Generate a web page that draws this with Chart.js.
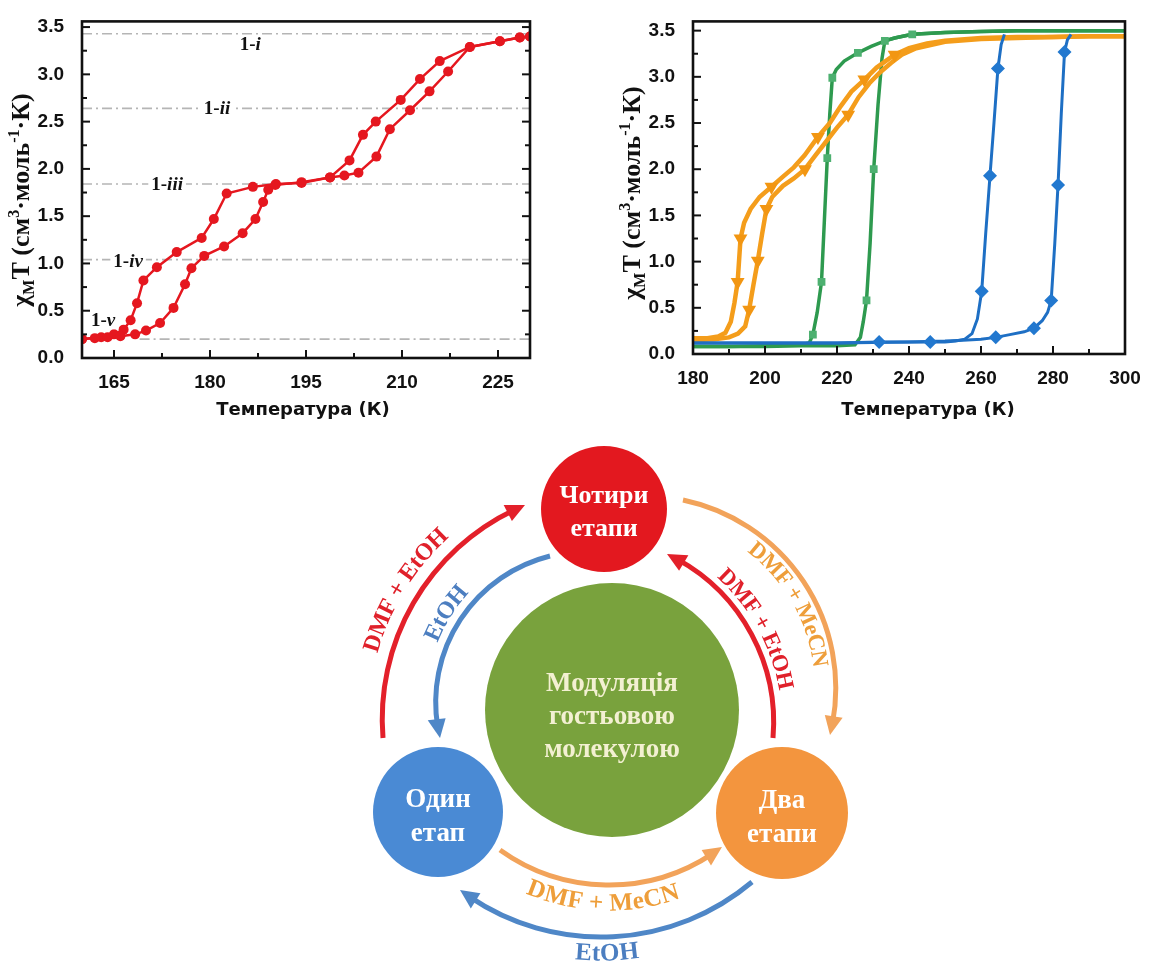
<!DOCTYPE html>
<html><head><meta charset="utf-8">
<script src="https://cdn.jsdelivr.net/npm/chart.js@4.4.1/dist/chart.umd.min.js"></script>
<style>
html,body{margin:0;padding:0;background:#fff;}
body{width:1163px;height:962px;position:relative;overflow:hidden;}
.box{position:absolute;}
</style></head><body>
<div class="box" style="left:0;top:0;width:545px;height:425px"><canvas id="c1"></canvas></div>
<div class="box" style="left:590px;top:0;width:573px;height:425px"><canvas id="c2"></canvas></div>
<div class="box" style="left:330px;top:430px;width:560px;height:532px"><canvas id="c3"></canvas></div>
<script>
// ---------- LEFT CHART DATA ----------
const leftXTicks = [165,180,195,210,225];
const leftXMinor = [172.5,187.5,202.5,217.5];
const leftYTicks = [0,0.5,1,1.5,2,2.5,3,3.5];
const leftYMinor = [0.25,0.75,1.25,1.75,2.25,2.75,3.25];
const heatT   = [160,162,164,166,168.3,170,172.2,174.3,176.1,177.1,179.1,182.2,185.1,187.1,188.3,189.1,190.2,194.3,198.75,201,203.2,206.0,208.1,211.25,214.3,217.2,220.6,225.3,228.4,230];
const heatChi = [0.20,0.21,0.22,0.23,0.25,0.29,0.37,0.53,0.78,0.95,1.08,1.18,1.32,1.47,1.65,1.78,1.83,1.86,1.91,1.93,1.96,2.13,2.42,2.62,2.82,3.03,3.29,3.35,3.39,3.40];
const coolT   = [230,228.4,225.3,220.6,215.9,212.8,209.8,205.9,203.9,201.8,198.75,194.3,190.3,186.7,182.6,180.6,178.7,174.8,171.7,169.6,168.6,167.6,166.5,165,163,160];
const coolChi = [3.40,3.39,3.35,3.29,3.14,2.95,2.73,2.50,2.36,2.09,1.91,1.85,1.84,1.81,1.74,1.47,1.27,1.12,0.96,0.82,0.58,0.40,0.30,0.25,0.22,0.20];
const refChi    = [3.43,2.64,1.84,1.04,0.20];
const refStartT = [160,160,160,160,169];
const refNumerals = ['i','ii','iii','iv','v'];
const refLabelT   = [186.3,181.1,173.3,167.2,163.3];
const refLabelChi = [3.32,2.64,1.84,1.03,0.40];

// ---------- RIGHT CHART DATA ----------
const rightXTicks = [180,200,220,240,260,280,300];
const rightXMinor = [190,210,230,250,270,290];
const rightYTicks = [0,0.5,1,1.5,2,2.5,3,3.5];
const rightYMinor = [0.25,0.75,1.25,1.75,2.25,2.75,3.25];
const greenHeatT   = [180,190,200,210,220,225,226.5,227.3,228.2,229.2,230.2,231.4,232.5,233.3,236,240.9,250,260,270,280,290,300];
const greenHeatChi = [0.08,0.08,0.08,0.09,0.09,0.10,0.18,0.35,0.58,1.2,2.0,2.7,3.2,3.39,3.42,3.46,3.48,3.49,3.5,3.5,3.5,3.5];
const greenCoolT   = [300,290,280,270,260,250,240.9,236,233.3,229.5,225.8,222,219.8,218.7,218.0,217.3,216.5,215.7,214.5,213.3,212.3,210,200,190,180];
const greenCoolChi = [3.5,3.5,3.5,3.5,3.49,3.48,3.46,3.42,3.39,3.33,3.26,3.17,3.08,2.99,2.6,2.12,1.45,0.78,0.45,0.21,0.12,0.10,0.09,0.08,0.08];
const greenMarkT   = [213.3,215.7,217.3,218.7,225.8,228.2,230.2,233.3,240.9];
const greenMarkChi = [0.21,0.78,2.12,2.99,3.26,0.58,2.0,3.39,3.46];
const blueCoolT   = [180,190,200,210,220,231.7,240,245.9,250,253,255.5,257.5,259,260.2,261.3,262.5,263.6,264.7,265.6,266.5];
const blueCoolChi = [0.12,0.12,0.12,0.12,0.12,0.13,0.13,0.13,0.13,0.14,0.16,0.22,0.38,0.68,1.3,1.93,2.5,3.09,3.35,3.46];
const blueHeatT   = [180,200,220,240,250,255,260,264.1,268,272,274.7,277,278.5,279.5,280.5,281.4,282.3,283.2,284,285];
const blueHeatChi = [0.12,0.12,0.12,0.13,0.14,0.15,0.16,0.18,0.21,0.24,0.28,0.36,0.45,0.58,1.2,1.83,2.6,3.27,3.4,3.46];
const blueMarkT   = [231.7,245.9,260.2,262.5,264.7,264.1,274.7,279.5,281.4,283.2];
const blueMarkChi = [0.13,0.13,0.68,1.93,3.09,0.18,0.28,0.58,1.83,3.27];
const orCoolT   = [180,184,187,189,190.5,191.5,192.4,193.2,194.2,196,198.5,201.8,205,208,211,214.7,218,221,224,227.6,231,236,240,245,250,260,270,280,290,300];
const orCoolChi = [0.17,0.17,0.19,0.23,0.35,0.55,0.78,1.25,1.42,1.57,1.70,1.81,1.92,2.02,2.15,2.35,2.50,2.68,2.84,2.97,3.10,3.24,3.31,3.36,3.39,3.42,3.43,3.43,3.44,3.44];
const orHeatT   = [180,186,190,192.5,194.5,195.6,196.8,198,199.2,200.4,202,205,208,211.1,214,217,220,223.1,226,229,232,235,238,242,250,260,270,280,290,300];
const orHeatChi = [0.15,0.16,0.18,0.22,0.30,0.48,0.75,1.01,1.30,1.57,1.70,1.82,1.90,2.00,2.15,2.30,2.45,2.59,2.78,2.93,3.05,3.15,3.24,3.31,3.38,3.41,3.42,3.43,3.44,3.44];
const orMarkT   = [192.4,193.2,201.8,214.7,227.6,236,195.6,198,200.4,211.1,223.1];
const orMarkChi = [0.78,1.25,1.81,2.35,2.97,3.24,0.48,1.01,1.57,2.0,2.59];

// ---------- TEXT ----------
const xTitle = 'Температура (К)';
const yTitleParts = [['χ','n'],['M','sub'],['T (см','n'],['3','sup'],['·моль','n'],['-1','sup'],['·К)','n']];
const nodeLabels = {four:['Чотири','етапи'], center:['Модуляція','гостьовою','молекулою'], one:['Один','етап'], two:['Два','етапи']};
const arrowLabels = ['DMF + EtOH','EtOH','DMF + EtOH','DMF + MeCN','DMF + MeCN','EtOH'];

const xy = (xs, ys) => xs.map((x, i) => ({x, y: ys[i]}));

// ---------- SHARED PLUGIN ----------
const decoPlugin = {
  id: 'deco',
  afterDatasetsDraw(chart, args, o) {
    const {ctx, chartArea: a, scales: {x, y}} = chart;
    ctx.save();
    if (o.refLabels) {
      o.refLabels.forEach(l => {
        const px = x.getPixelForValue(l.x), py = y.getPixelForValue(l.y);
        ctx.font = 'bold 19px "Liberation Serif"';
        const w1 = ctx.measureText('1-').width;
        ctx.font = 'bold italic 19px "Liberation Serif"';
        const w2 = ctx.measureText(l.n).width;
        const tw = w1 + w2;
        ctx.fillStyle = '#fff';
        ctx.fillRect(px - tw/2 - 3, py - 9, tw + 6, 18);
        ctx.fillStyle = '#111'; ctx.textBaseline = 'middle'; ctx.textAlign = 'left';
        ctx.font = 'bold 19px "Liberation Serif"';
        ctx.fillText('1-', px - tw/2, py + 1);
        ctx.font = 'bold italic 19px "Liberation Serif"';
        ctx.fillText(l.n, px - tw/2 + w1, py + 1);
      });
    }
    ctx.strokeStyle = '#111'; ctx.lineWidth = 2;
    const seg = (x1,y1,x2,y2) => { ctx.beginPath(); ctx.moveTo(x1,y1); ctx.lineTo(x2,y2); ctx.stroke(); };
    o.xMajor.forEach(v => { const p = x.getPixelForValue(v); seg(p, a.bottom, p, a.bottom - 8); });
    o.xMinor.forEach(v => { const p = x.getPixelForValue(v); seg(p, a.bottom, p, a.bottom - 5); });
    o.yMajor.forEach(v => { const p = y.getPixelForValue(v); seg(a.left, p, a.left + 8, p); if (o.right) seg(a.right, p, a.right - 8, p); });
    o.yMinor.forEach(v => { const p = y.getPixelForValue(v); seg(a.left, p, a.left + 5, p); if (o.right) seg(a.right, p, a.right - 5, p); });
    ctx.lineWidth = 2.6;
    ctx.strokeRect(a.left, a.top, a.right - a.left, a.bottom - a.top);
    // x title
    ctx.fillStyle = '#111'; ctx.font = 'bold 18px "DejaVu Sans"'; ctx.textAlign = 'center'; ctx.textBaseline = 'middle';
    ctx.fillText(xTitle, (a.left + a.right)/2 + o.xtDx, o.xtY);
    // y title with sub/superscripts
    const big = 'bold 26px "Liberation Serif"', small = 'bold 16px "Liberation Serif"';
    let total = 0;
    yTitleParts.forEach(([t, k]) => { ctx.font = k === 'n' ? big : small; total += ctx.measureText(t).width; });
    ctx.translate(o.tx, o.ty); ctx.rotate(-Math.PI/2);
    ctx.textBaseline = 'alphabetic'; ctx.textAlign = 'left';
    let cur = -total/2;
    yTitleParts.forEach(([t, k]) => {
      ctx.font = k === 'n' ? big : small;
      const dy = k === 'sub' ? 5 : (k === 'sup' ? -10 : 0);
      ctx.fillText(t, cur, 8 + dy);
      cur += ctx.measureText(t).width;
    });
    ctx.restore();
  }
};

const tickFont = {family: '"Liberation Sans", Arial', size: 19, weight: 'bold'};
function axes(xmin, xmax, xt, ymax, yt, yw, xh) {
  return {
    x: {type: 'linear', min: xmin, max: xmax, grid: {display: false}, border: {display: false},
        afterBuildTicks: s => { s.ticks = xt.map(v => ({value: v})); },
        afterFit: s => { s.height = xh; },
        ticks: {font: tickFont, color: '#111', padding: 5, maxRotation: 0, callback: v => String(v)}},
    y: {type: 'linear', min: 0, max: ymax, grid: {display: false}, border: {display: false},
        afterBuildTicks: s => { s.ticks = yt.map(v => ({value: v})); },
        afterFit: s => { s.width = yw; },
        ticks: {font: tickFont, color: '#111', padding: 10, callback: v => Number(v).toFixed(1)}}
  };
}

const red = '#E5171F';
const leftSets = [
  {data: xy(heatT, heatChi), borderColor: red, backgroundColor: red, borderWidth: 2.5, pointRadius: 5, pointBorderWidth: 0, showLine: true},
  {data: xy(coolT, coolChi), borderColor: red, backgroundColor: red, borderWidth: 2.5, pointRadius: 5, pointBorderWidth: 0, showLine: true}
];
refChi.forEach((v, i) => leftSets.push({data: [{x: refStartT[i], y: v}, {x: 230, y: v}], borderColor: '#b5b5b5', borderWidth: 1.6, borderDash: [10,4,2,4], pointRadius: 0, showLine: true}));

new Chart(document.getElementById('c1'), {
  type: 'scatter',
  data: {datasets: leftSets},
  options: {
    responsive: true, maintainAspectRatio: false, animation: false, events: [],
    layout: {padding: {top: 17, right: 15, left: 0, bottom: 0}},
    plugins: {legend: {display: false}, tooltip: {enabled: false},
      deco: {xMajor: leftXTicks, xMinor: leftXMinor, yMajor: leftYTicks, yMinor: leftYMinor, right: true, tx: 21, ty: 200, xtDx: -3, xtY: 410,
        refLabels: refNumerals.map((n, i) => ({n, x: refLabelT[i], y: refLabelChi[i]}))}},
    scales: axes(160, 230, leftXTicks, 3.56, leftYTicks, 82, 67)
  },
  plugins: [decoPlugin]
});

const green = '#2E9A4F', greenM = '#4DB070', blue = '#1E6FC4', blueM = '#2278CF', orange = '#F49D1B', orangeM = '#F29612';
const line = (xs, ys, c, w) => ({data: xy(xs, ys), borderColor: c, backgroundColor: c, borderWidth: w, pointRadius: 0, showLine: true});
const marks = (xs, ys, c, style, r, rot) => ({data: xy(xs, ys), borderColor: c, backgroundColor: c, pointStyle: style, pointRadius: r, pointRotation: rot || 0, pointBorderWidth: 0, showLine: false});
new Chart(document.getElementById('c2'), {
  type: 'scatter',
  data: {datasets: [
    marks(blueMarkT, blueMarkChi, blueM, 'rectRot', 7),
    line(blueCoolT, blueCoolChi, blue, 3),
    line(blueHeatT, blueHeatChi, blue, 3),
    marks(orMarkT, orMarkChi, orangeM, 'triangle', 8, 180),
    line(orCoolT, orCoolChi, orange, 4.5),
    line(orHeatT, orHeatChi, orange, 4.5),
    marks(greenMarkT, greenMarkChi, greenM, 'rect', 5.5),
    line(greenCoolT, greenCoolChi, green, 3.5),
    line(greenHeatT, greenHeatChi, green, 3.5)
  ]},
  options: {
    responsive: true, maintainAspectRatio: false, animation: false, events: [],
    layout: {padding: {top: 14, right: 38, left: 0, bottom: 0}},
    plugins: {legend: {display: false}, tooltip: {enabled: false},
      deco: {xMajor: rightXTicks, xMinor: rightXMinor, yMajor: rightYTicks, yMinor: rightYMinor, right: false, tx: 42, ty: 193, xtDx: 19, xtY: 410}},
    scales: axes(180, 300, rightXTicks, 3.6, rightYTicks, 103, 71)
  },
  plugins: [decoPlugin]
});

// ---------- DIAGRAM (layout in page coordinates) ----------
const LAYOUT = {
  nodes: [
    {key: 'four', c: [604, 509], r: 63, fill: '#E3181F', txt: '#ffffff', font: 26, lineGap: 33, dy: 4},
    {key: 'center', c: [612, 710], r: 127, fill: '#79A23D', txt: '#F3F0D2', font: 27, lineGap: 33, dy: 7},
    {key: 'one', c: [438, 812], r: 65, fill: '#4A8AD4', txt: '#ffffff', font: 27, lineGap: 34, dy: 5},
    {key: 'two', c: [782, 813], r: 66, fill: '#F3953E', txt: '#ffffff', font: 27, lineGap: 34, dy: 5}
  ],
  arrows: [
    {pts: [[383,738],[417,597],[525,505]], color: '#E3202A', tcol: '#E0202A', anchor: [408,592], off: 20, out: true, size: 24},
    {pts: [[550,556],[473,603],[440,738]], color: '#4F87C7', tcol: '#4C7EC0', anchor: [452,617], off: 16, out: true, size: 24},
    {pts: [[773,738],[741,617],[667,554]], color: '#E3202A', tcol: '#E0202A', anchor: [766,624], off: 14, out: true, size: 23},
    {pts: [[683,500],[810,592],[830,735]], color: '#F2A35A', tcol: '#EE9E3A', anchor: [790,604], off: -15, out: true, size: 23},
    {pts: [[500,850],[607,885],[722,847]], color: '#F2A35A', tcol: '#EE9E3A', anchor: [603,900], off: 19, out: false, size: 25},
    {pts: [[752,882],[607,937],[460,890]], color: '#4F87C7', tcol: '#4C7EC0', anchor: [607,953], off: 17, out: false, size: 25}
  ]
};

function circle3(p1, p2, p3) {
  const [x1,y1] = p1, [x2,y2] = p2, [x3,y3] = p3;
  const d = 2*(x1*(y2-y3) + x2*(y3-y1) + x3*(y1-y2));
  const s1 = x1*x1+y1*y1, s2 = x2*x2+y2*y2, s3 = x3*x3+y3*y3;
  const cx = (s1*(y2-y3) + s2*(y3-y1) + s3*(y1-y2))/d;
  const cy = (s1*(x3-x2) + s2*(x1-x3) + s3*(x2-x1))/d;
  return {cx, cy, r: Math.hypot(x1-cx, y1-cy)};
}
function textOnArc(ctx, text, cx, cy, r, mid, out, font, color) {
  ctx.save(); ctx.font = font; ctx.fillStyle = color; ctx.textAlign = 'center'; ctx.textBaseline = 'middle';
  const chars = [...text];
  const ws = chars.map(ch => ctx.measureText(ch).width);
  const span = ws.reduce((a, b) => a + b, 0) / r;
  let a = out ? mid - span/2 : mid + span/2;
  chars.forEach((ch, i) => {
    const da = ws[i]/r;
    const ac = out ? a + da/2 : a - da/2;
    ctx.save();
    ctx.translate(cx + r*Math.cos(ac), cy + r*Math.sin(ac));
    ctx.rotate(out ? ac + Math.PI/2 : ac - Math.PI/2);
    ctx.fillText(ch, 0, 0);
    ctx.restore();
    a = out ? a + da : a - da;
  });
  ctx.restore();
}
const TAU = Math.PI*2;
const norm = a => ((a % TAU) + TAU) % TAU;

const diagramPlugin = {
  id: 'diagram',
  afterDraw(chart) {
    const {ctx, scales: {x, y}} = chart;
    const P = ([px, py]) => [x.getPixelForValue(px), y.getPixelForValue(py)];
    ctx.save();
    LAYOUT.arrows.forEach((ar, i) => {
      const pts = ar.pts.map(P);
      const {cx, cy, r} = circle3(pts[0], pts[1], pts[2]);
      const ang = pts.map(p => Math.atan2(p[1]-cy, p[0]-cx));
      const d12 = norm(ang[1]-ang[0]), d13 = norm(ang[2]-ang[0]);
      const s = d12 < d13 ? 1 : -1;
      const sweep = s > 0 ? d13 : TAU - d13;
      const a0 = ang[0], ae = a0 + s*sweep;
      const L = 19, W = 9;
      const shaftEnd = ae - s*(L*0.6)/r;
      ctx.strokeStyle = ar.color; ctx.lineWidth = 5; ctx.lineCap = 'butt';
      ctx.beginPath(); ctx.arc(cx, cy, r, a0, shaftEnd, s < 0); ctx.stroke();
      const ab = ae - s*L/r;
      const tip = [cx + r*Math.cos(ae), cy + r*Math.sin(ae)];
      const bc = [cx + r*Math.cos(ab), cy + r*Math.sin(ab)];
      const ux = Math.cos(ab), uy = Math.sin(ab);
      ctx.fillStyle = ar.color;
      ctx.beginPath(); ctx.moveTo(tip[0], tip[1]);
      ctx.lineTo(bc[0] + W*ux, bc[1] + W*uy); ctx.lineTo(bc[0] - W*ux, bc[1] - W*uy);
      ctx.closePath(); ctx.fill();
      const an = P(ar.anchor);
      const mid = Math.atan2(an[1]-cy, an[0]-cx);
      textOnArc(ctx, arrowLabels[i], cx, cy, r + ar.off, mid, ar.out, 'bold ' + ar.size + 'px "Liberation Serif"', ar.tcol);
    });
    LAYOUT.nodes.forEach(n => {
      const [px, py] = P(n.c);
      ctx.fillStyle = n.fill;
      ctx.beginPath(); ctx.arc(px, py, n.r, 0, TAU); ctx.fill();
      const lines = nodeLabels[n.key];
      ctx.fillStyle = n.txt; ctx.font = 'bold ' + n.font + 'px "Liberation Serif"';
      ctx.textAlign = 'center'; ctx.textBaseline = 'middle';
      const h = (lines.length - 1) * n.lineGap;
      lines.forEach((t, k) => ctx.fillText(t, px, py + n.dy - h/2 + k*n.lineGap));
    });
    ctx.restore();
  }
};

new Chart(document.getElementById('c3'), {
  type: 'scatter',
  data: {datasets: []},
  options: {
    responsive: true, maintainAspectRatio: false, animation: false, events: [],
    layout: {padding: 0},
    plugins: {legend: {display: false}, tooltip: {enabled: false}},
    scales: {x: {type: 'linear', display: false, min: 330, max: 890}, y: {type: 'linear', display: false, min: 430, max: 962, reverse: true}}
  },
  plugins: [diagramPlugin]
});
</script>
</body></html>
